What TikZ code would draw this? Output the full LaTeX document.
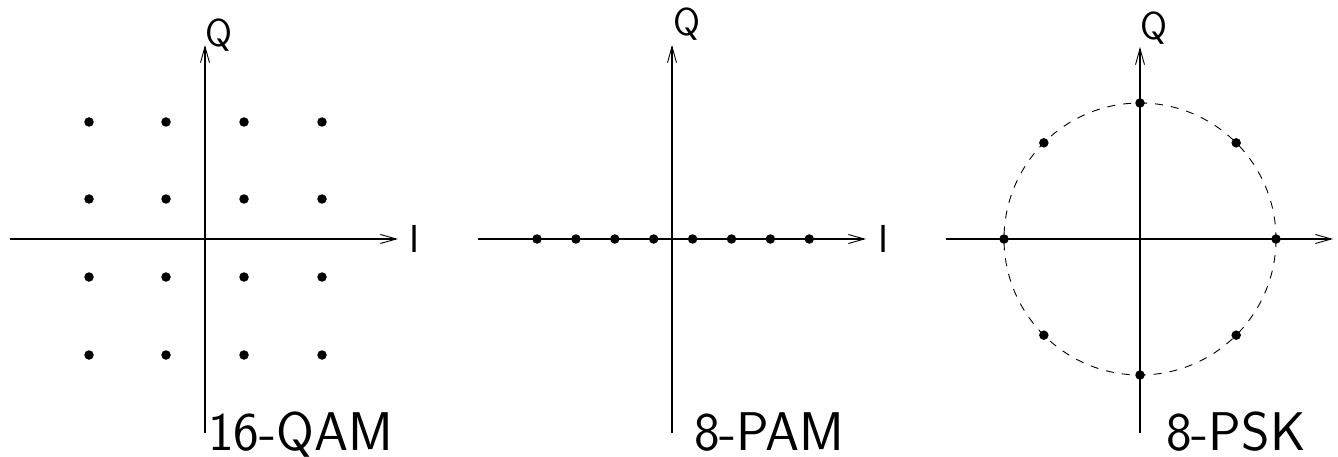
\documentclass[tikz,border=0pt]{standalone}
\usepackage{fontspec}
\usetikzlibrary{arrows.meta,calc}
\tikzset{
  axis/.style={line width=1.15pt, -{Straight Barb[length=16pt,width=9pt,line width=0.9pt]}},
  dotpt/.style={circle, fill=black, inner sep=0pt, minimum size=9.5pt},
  axlabel/.style={font=\sffamily\fontsize{39}{44}\selectfont, inner sep=0pt, anchor=base west},
  paneltitle/.style={font=\sffamily\fontsize{54.5}{60}\selectfont, inner sep=0pt, anchor=base west},
  ring/.style={dash pattern=on 8pt off 8pt, line width=0.9pt}
}
\begin{document}
\begin{tikzpicture}[x=1pt,y=-1pt]
\useasboundingbox (0,0) rectangle (1338,457);
% ---------- 16-QAM ----------
\coordinate (h1s) at (10,239);
\coordinate (h1e) at (398,239);
\coordinate (v1s) at (205,433);
\coordinate (v1e) at (205,45);
\draw[axis] (h1s) -- (h1e);
\draw[axis] (v1s) -- (v1e);
\foreach \i/\x in {1/89,2/166,3/244,4/322}{
  \foreach \j/\y in {1/122,2/199,3/277,4/355}{
    \node[dotpt] (q\i\j) at (\x,\y) {};
  }
}
\node[axlabel] (i1) at (409,252) {I};
\node[axlabel] (qq1) at (205,47) {Q};
\node[paneltitle] (t1) at (208,450) {16-QAM};
% ---------- 8-PAM ----------
\coordinate (h2s) at (478,239);
\coordinate (h2e) at (866,239);
\coordinate (v2s) at (672,433);
\coordinate (v2e) at (672,45);
\draw[axis] (h2s) -- (h2e);
\draw[axis] (v2s) -- (v2e);
\foreach \k in {0,...,7}{
  \node[dotpt] (p\k) at ({537+38.9*\k},239) {};
}
\node[axlabel] (i2) at (878,252) {I};
\node[axlabel] (qq2) at (673,36) {Q};
\node[paneltitle] (t2) at (694,450) {8-PAM};
% ---------- 8-PSK ----------
\coordinate (c3) at (1140,239);
\draw[ring] (c3) circle[radius=136];
\coordinate (h3s) at (946,239);
\coordinate (h3e) at (1333,239);
\coordinate (v3s) at (1140,433);
\coordinate (v3e) at (1140,47);
\draw[axis] (h3s) -- (h3e);
\draw[axis] (v3s) -- (v3e);
\foreach \k in {0,...,7}{
  \node[dotpt] (s\k) at ($(c3)+({136*cos(45*\k)},{136*sin(45*\k)})$) {};
}
\node[axlabel] (qq3) at (1140,40) {Q};
\node[paneltitle] (t3) at (1166,450) {8-PSK};
\end{tikzpicture}
\end{document}
